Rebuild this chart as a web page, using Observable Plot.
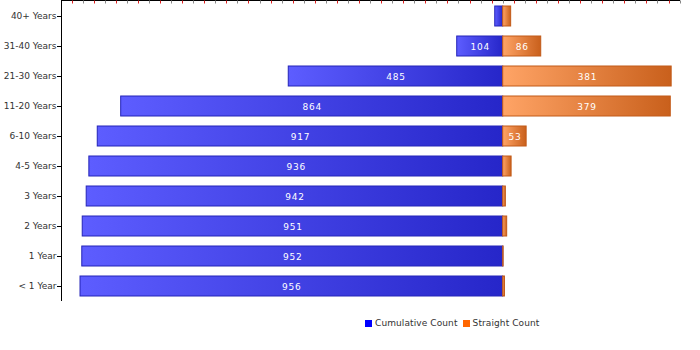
<!DOCTYPE html>
<html>
<head>
<meta charset="utf-8">
<script src="https://cdn.jsdelivr.net/npm/d3@7"></script>
<script src="https://cdn.jsdelivr.net/npm/@observablehq/plot@0.6"></script>
<style>
  html, body { margin: 0; padding: 0; background: #fff; }
  body { width: 700px; height: 350px; overflow: hidden; font-family: "DejaVu Sans", sans-serif; }
  #legend { display: flex; align-items: center; padding-left: 365px; margin-top: 8px; font-size: 9px; color: #333; height: 14px; letter-spacing: 0.1px; }
  #legend .sw { display: inline-block; width: 7px; height: 7px; margin-right: 3px; }
  #legend .item { display: flex; align-items: center; margin-right: 5px; }
</style>
</head>
<body>
<div id="chart"></div>
<div id="legend"></div>
<script>
const categories = ["40+ Years", "31-40 Years", "21-30 Years", "11-20 Years", "6-10 Years", "4-5 Years", "3 Years", "2 Years", "1 Year", "< 1 Year"];
const cumulativeCount = [18, 104, 485, 864, 917, 936, 942, 951, 952, 956];
const straightCount = [18, 86, 381, 379, 53, 19, 6, 9, 1, 4];
const seriesNames = ["Cumulative Count", "Straight Count"];
const seriesColors = ["#0000ff", "#ff6600"];
const xDomain = [-999, 401];
const majorTicks = d3.range(-950, 401, 50);
const minorTicks = d3.range(-975, 401, 50);
const labelMin = 50;

const rows = categories.map((c, i) => ({cat: c, cum: cumulativeCount[i], str: straightCount[i]}));

const frameLines = (index, scales, values, dims) => {
  const g = d3.create("svg:g");
  const [x0, x1] = [dims.marginLeft, dims.width - dims.marginRight];
  const yTop = dims.marginTop - 0.5;
  const yBot = dims.height - dims.marginBottom;
  g.append("line").attr("x1", x0).attr("x2", x1).attr("y1", yTop).attr("y2", yTop).attr("stroke", "#000");
  g.append("line").attr("x1", x0 + 0.5).attr("x2", x0 + 0.5).attr("y1", yTop).attr("y2", yBot).attr("stroke", "#000");
  g.selectAll(".mj").data(majorTicks).join("line")
    .attr("x1", d => Math.round(scales.x(d)) + 0.5).attr("x2", d => Math.round(scales.x(d)) + 0.5)
    .attr("y1", yTop).attr("y2", yTop + 3).attr("stroke", "#888");
  g.selectAll(".mn").data(minorTicks).join("line")
    .attr("x1", d => Math.round(scales.x(d)) + 0.5).attr("x2", d => Math.round(scales.x(d)) + 0.5)
    .attr("y1", yTop).attr("y2", yTop + 3).attr("stroke", "#e02020");
  return g.node();
};

const plot = Plot.plot({
  width: 700,
  height: 308,
  marginLeft: 61,
  marginRight: 20,
  marginTop: 1,
  marginBottom: 7,
  style: {fontFamily: "DejaVu Sans, sans-serif", fontSize: "9px", color: "#333", background: "#fff"},
  x: {domain: xDomain, axis: null},
  y: {domain: categories, paddingInner: 1/3, paddingOuter: 1/6, label: null},
  marks: [
    Plot.axisY({tickSize: 4, tickPadding: 1, fontSize: 9, stroke: "#000", fill: "#333"}),
    Plot.barX(rows, {y: "cat", x1: d => -d.cum, x2: 0, fill: "url(#gBlue)", stroke: "#2424b8", strokeWidth: 1}),
    Plot.barX(rows, {y: "cat", x1: 0, x2: "str", fill: "url(#gOrange)", stroke: "#c25a18", strokeWidth: 1}),
    Plot.text(rows.filter(d => d.cum >= labelMin), {y: "cat", x: d => -d.cum / 2, text: d => String(d.cum), fill: "#fff", fontSize: 9, dy: 0.5, className: "barlabel"}),
    Plot.text(rows.filter(d => d.str >= labelMin), {y: "cat", x: d => d.str / 2, text: d => String(d.str), fill: "#fff", fontSize: 9, dy: 0.5, className: "barlabel"}),
    frameLines
  ]
});

d3.select(plot).insert("defs", ":first-child").html(`
  <linearGradient id="gBlue" x1="0" x2="1" y1="0" y2="0">
    <stop offset="0" stop-color="#5d5dff"/>
    <stop offset="1" stop-color="#2626c9"/>
  </linearGradient>
  <linearGradient id="gOrange" x1="0" x2="1" y1="0" y2="0">
    <stop offset="0" stop-color="#ffa466"/>
    <stop offset="1" stop-color="#c9601c"/>
  </linearGradient>`);
d3.select(plot).selectAll(".barlabel text").style("letter-spacing", "0.8px");

document.getElementById("chart").appendChild(plot);

const legend = d3.select("#legend");
seriesNames.forEach((n, i) => {
  const it = legend.append("span").attr("class", "item");
  it.append("span").attr("class", "sw").style("background", seriesColors[i]);
  it.append("span").text(n);
});
</script>
</body>
</html>
